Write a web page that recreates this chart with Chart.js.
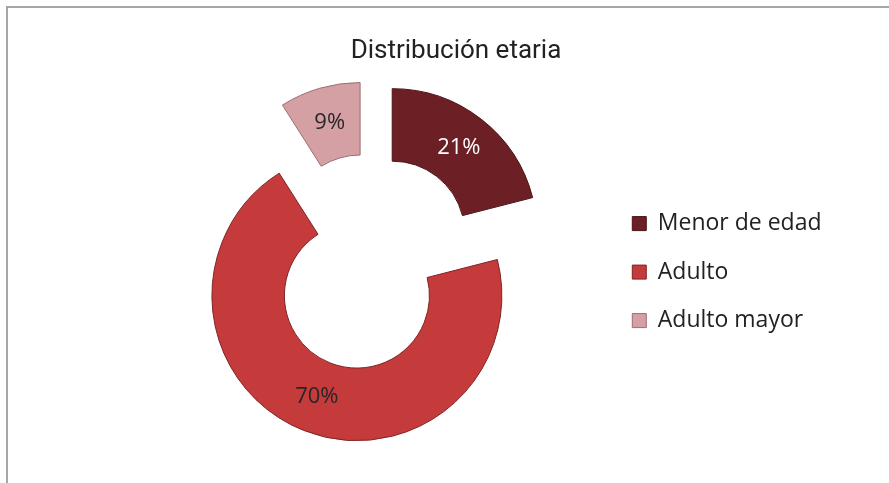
<!DOCTYPE html>
<html>
<head>
<meta charset="utf-8">
<script src="https://cdn.jsdelivr.net/npm/chart.js@4.4.1/dist/chart.umd.min.js"></script>
<style>
  body { margin: 0; background: #fff; overflow: hidden; }
  #marco { position: absolute; left: 6px; top: 6px; width: 1000px; height: 1000px;
           border-top: 2px solid #a6a6a6; border-left: 2px solid #a6a6a6; }
  #edades { position: absolute; left: 0; top: 0; }
</style>
</head>
<body>
<div id="marco"></div>
<canvas id="edades" width="889" height="483"></canvas>
<script>
const categorias = ['Menor de edad', 'Adulto', 'Adulto mayor'];
const porcentajes = [21, 70, 9];
const colores = ['#6c1f25', '#c53b3c', '#d5a0a4'];
const bordes = ['#4a1418', '#7e2426', '#9c6e72'];
const colorEtiquetas = ['#ffffff', '#262626', '#262626'];

// cada porcion se aparta del centro, como el anillo "explotado" de Excel
const separar = {
  id: 'separar',
  afterDatasetsUpdate(chart) {
    chart.getDatasetMeta(0).data.forEach(arc => {
      const mid = (arc.startAngle + arc.endAngle) / 2;
      arc.x += Math.cos(mid) * 36;
      arc.y += Math.sin(mid) * 36;
    });
  }
};

// porcentajes en medio de cada porcion
const etiquetas = {
  id: 'etiquetas',
  afterDatasetsDraw(chart) {
    const ctx = chart.ctx;
    ctx.save();
    ctx.font = '22px "Open Sans"';
    ctx.textAlign = 'center';
    ctx.textBaseline = 'middle';
    chart.getDatasetMeta(0).data.forEach((arc, i) => {
      const mid = (arc.startAngle + arc.endAngle) / 2;
      const r = (arc.innerRadius + arc.outerRadius) / 2;
      ctx.fillStyle = colorEtiquetas[i];
      ctx.fillText(porcentajes[i] + '%', arc.x + Math.cos(mid) * r, arc.y + Math.sin(mid) * r);
    });
    ctx.restore();
  }
};

new Chart(document.getElementById('edades'), {
  type: 'doughnut',
  data: {
    labels: categorias,
    datasets: [{
      data: porcentajes,
      backgroundColor: colores,
      borderColor: bordes,
      borderWidth: 1
    }]
  },
  options: {
    responsive: false,
    animation: false,
    events: [],
    radius: 145,
    cutout: '50%',
    layout: { padding: { left: 80.5, right: 57.5, top: 0, bottom: 39 } },
    plugins: {
      title: {
        display: true,
        text: 'Distribución etaria',
        color: '#222',
        font: { family: 'Roboto', size: 26, weight: 'normal' },
        padding: { top: 36, bottom: 13 }
      },
      // subtitulo vacio a la izquierda: solo deja margen para que el anillo quede donde en el original
      subtitle: {
        display: true,
        position: 'left',
        fullSize: false,
        text: '',
        font: { size: 1, lineHeight: 1 },
        padding: 26
      },
      legend: {
        position: 'right',
        fullSize: false,
        maxWidth: 260,
        title: { display: true, text: '', font: { size: 10, lineHeight: 1 }, padding: 5 },
        labels: {
          boxWidth: 14,
          boxHeight: 14,
          padding: 25.5,
          color: '#222',
          font: { family: 'Open Sans', size: 23 }
        }
      },
      tooltip: { enabled: false }
    }
  },
  plugins: [separar, etiquetas]
});
</script>
</body>
</html>
